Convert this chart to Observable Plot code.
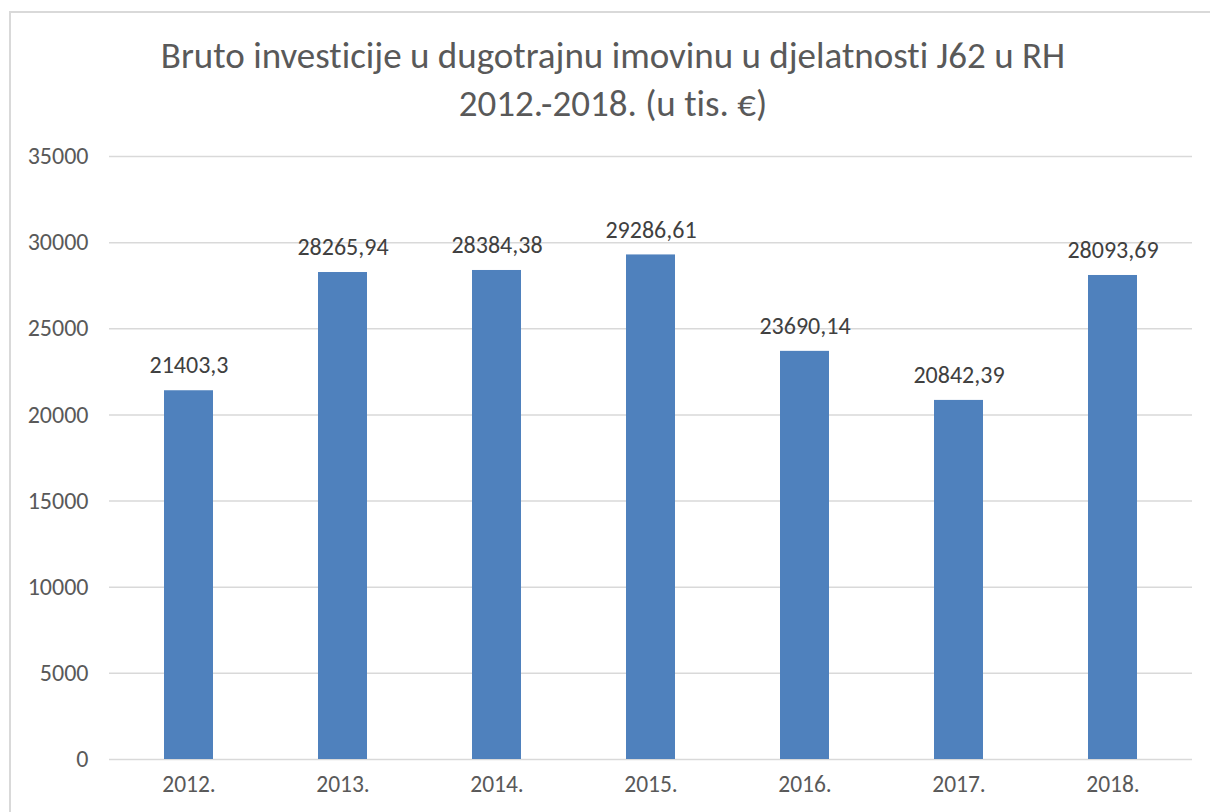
<!DOCTYPE html>
<html>
<head>
<meta charset="utf-8">
<script src="https://cdn.jsdelivr.net/npm/d3@7"></script>
<script src="https://cdn.jsdelivr.net/npm/@observablehq/plot@0.6"></script>
<style>
  html, body { margin: 0; padding: 0; background: #fff; overflow: hidden; width: 1210px; height: 812px; }
  #frame { position: absolute; left: 9px; top: 11px; width: 1220px; height: 900px; border: 2px solid #d9d9d9; box-sizing: border-box; }
  #title { position: absolute; left: 0; width: 1226px; top: 32px; text-align: center; font-family: Carlito, Lato, sans-serif; font-size: 37px; line-height: 48px; color: #595959; font-variant-ligatures: none; }
  #chart { position: absolute; left: 0; top: 0; }
</style>
</head>
<body>
<div id="frame"></div>
<div id="title">Bruto investicije u dugotrajnu imovinu u djelatnosti J62 u RH<br>2012.-2018. (u tis. €)</div>
<div id="chart"></div>
<script>
const years = ["2012.", "2013.", "2014.", "2015.", "2016.", "2017.", "2018."];
const values = [21403.3, 28265.94, 28384.38, 29286.61, 23690.14, 20842.39, 28093.69];
const yTicks = [0, 5000, 10000, 15000, 20000, 25000, 30000, 35000];

const data = years.map((y, i) => ({year: y, value: values[i]}));
const fmt = v => String(v).replace(".", ",");

const plot = Plot.plot({
  width: 1210,
  height: 812,
  marginLeft: 109,
  marginRight: 18,
  marginTop: 156,
  marginBottom: 53,
  style: {fontFamily: "Carlito, Lato, sans-serif", fontSize: "24px", color: "#595959", background: "transparent"},
  x: {domain: years, paddingInner: 0.68, paddingOuter: 0.34, label: null},
  y: {domain: [0, 35000], label: null},
  marks: [
    Plot.gridY(yTicks, {stroke: "#d9d9d9", strokeOpacity: 1, strokeWidth: 1.5}),
    Plot.barY(data, {x: "year", y: "value", fill: "#4f81bd"}),
    Plot.axisY({ticks: yTicks, tickSize: 0, tickPadding: 21, tickFormat: d => String(d), fill: "#595959", fontSize: 24}),
    Plot.axisX({tickSize: 0, tickPadding: 16, fill: "#595959", fontSize: 23.5}),
    Plot.text(data, {x: "year", y: "value", text: d => fmt(d.value), dy: -25, fill: "#404040", fontSize: 24})
  ]
});
document.getElementById("chart").appendChild(plot);
</script>
</body>
</html>
